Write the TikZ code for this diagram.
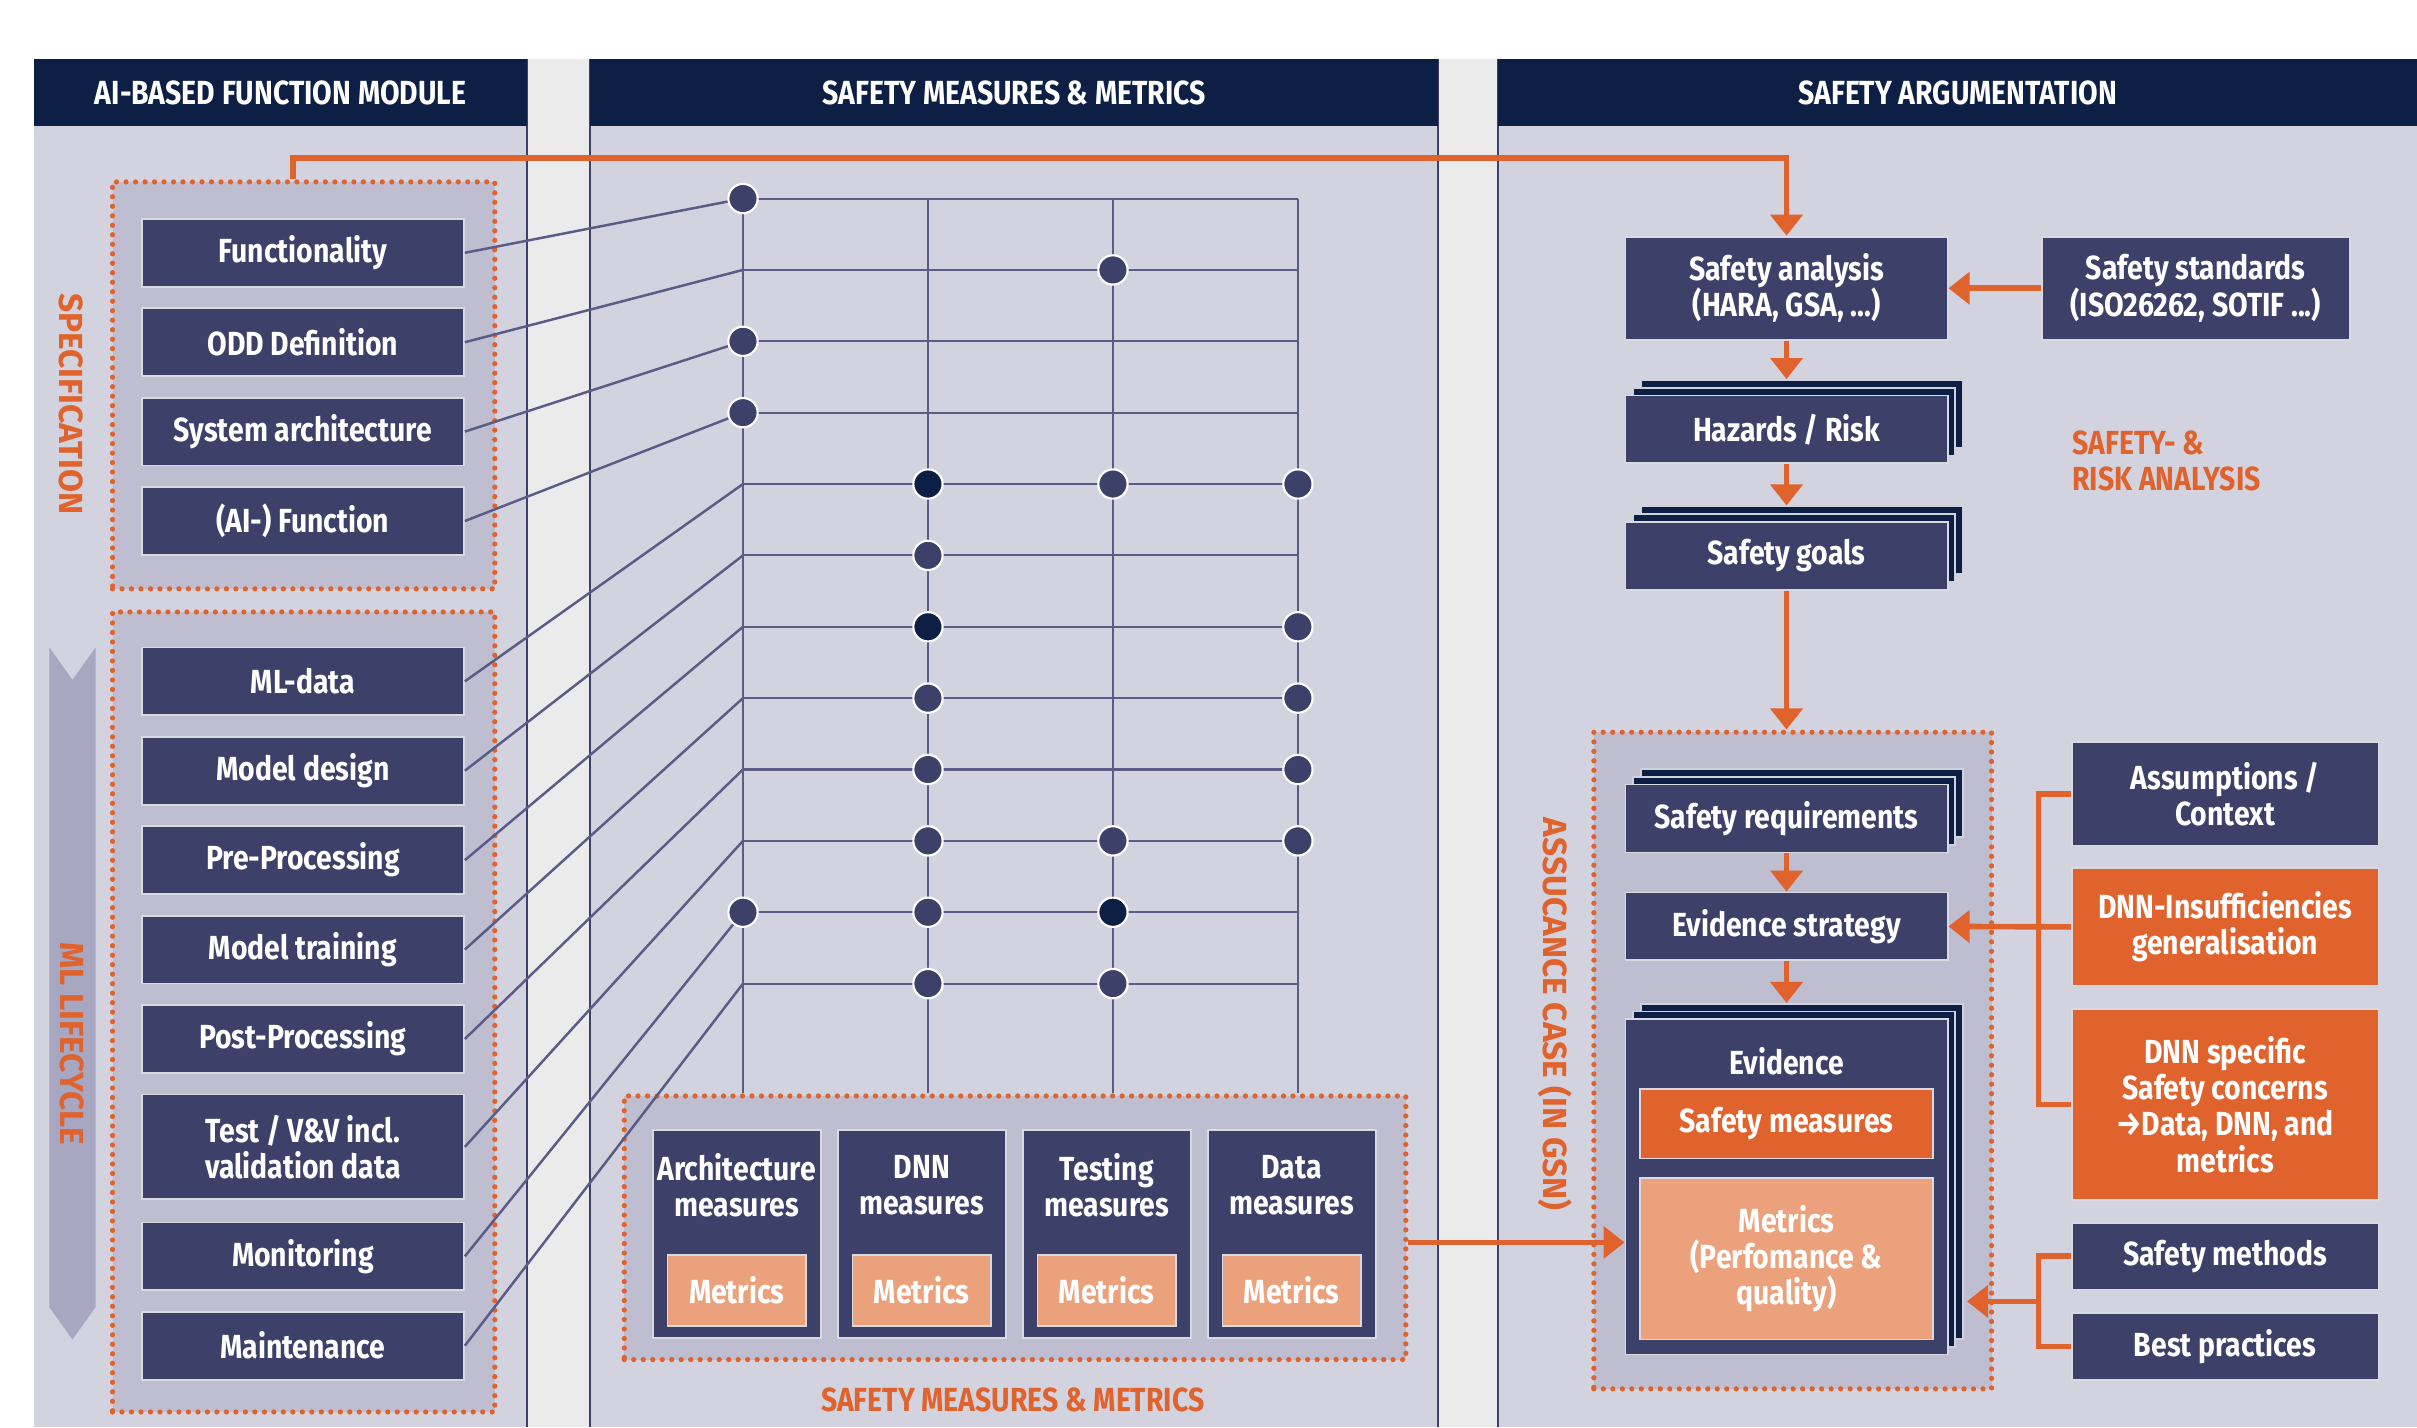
\documentclass[tikz,border=0pt]{standalone}
\usepackage{fontspec}
\setmainfont{Fira Sans}[FakeStretch=0.85]
\newfontfamily\widefont{Fira Sans}
\usetikzlibrary{arrows.meta,calc,shadows}

\definecolor{navy}{HTML}{0D1F45}
\definecolor{boxblue}{HTML}{3D4068}
\definecolor{panelgray}{HTML}{D3D3DF}
\definecolor{gapgray}{HTML}{EBEBEB}
\definecolor{groupgray}{HTML}{BEBED0}
\definecolor{accent}{HTML}{E0622D}
\definecolor{accentlight}{HTML}{EBA27C}
\definecolor{wire}{HTML}{5B5B87}
\definecolor{cyclegray}{HTML}{A7A7C1}

\newlength{\tu}
\setlength{\tu}{0.015415cm}

\tikzset{
  header/.style={fill=navy, text=white, minimum height=44*\tu, inner sep=0pt},
  box/.style={fill=boxblue, draw=white!80!boxblue, line width=0.5pt, text=white, align=center,
    inner sep=0pt, minimum width=209*\tu, minimum height=44*\tu},
  hotbox/.style={box, fill=accent},
  metricbox/.style={box, fill=accentlight},
  stackbox/.style={box,
    general shadow={shadow xshift=10*\tu, shadow yshift=10*\tu, fill=navy, draw=white!80!navy, line width=0.5pt},
    general shadow={shadow xshift=5*\tu, shadow yshift=5*\tu, fill=navy, draw=white!80!navy, line width=0.5pt}},
  group/.style={fill=groupgray, draw=accent, line width=1.5pt, line cap=round,
    dash pattern=on 0pt off 2.7pt, inner sep=0pt},
  tag/.style={text=accent, align=left, inner sep=0pt},
  sidetag/.style={tag, rotate=-90, font=\fontsize{9.5}{10.3}\widefont\bfseries},
  link/.style={draw=wire, line width=0.7pt},
  gridline/.style={draw=wire, line width=0.6pt},
  dot/.style={circle, fill=boxblue, draw=white, line width=0.6pt, minimum size=19*\tu, inner sep=0pt},
  darkdot/.style={dot, fill=navy},
  flow/.style={draw=accent, line width=1.6pt, -{Triangle[width=9pt,length=6pt]}},
  bracket/.style={draw=accent, line width=1.6pt},
}

\begin{document}
\begin{tikzpicture}[x=0.015415cm, y=-0.015415cm, font=\fontsize{9.5}{10.3}\selectfont\bfseries]
\useasboundingbox (0,0) rectangle (1568,926);

% Panels and gaps
\fill[white] (0,0) rectangle (1568,926);
\fill[gapgray] (342,38) rectangle (383,926);
\fill[gapgray] (933,38) rectangle (972,926);
\fill[panelgray] (22,82) rectangle (342,926);
\fill[panelgray] (383,82) rectangle (933,926);
\fill[panelgray] (972,82) rectangle (1568,926);
\draw[boxblue, line width=0.6pt] (342,38) -- (342,926) (383,38) -- (383,926)
  (933,38) -- (933,926) (972,38) -- (972,926);

% Column headers
\node[header, minimum width=320*\tu] (hmodule) at (182,60) {AI-BASED FUNCTION MODULE};
\node[header, minimum width=550*\tu] (hmeasures) at (658,60) {SAFETY MEASURES \& METRICS};
\node[header, minimum width=596*\tu] (hargue) at (1270,60) {SAFETY ARGUMENTATION};

% Dotted groups
\node[group, minimum width=248*\tu, minimum height=264*\tu] (spec) at (197,250) {};
\node[group, minimum width=248*\tu, minimum height=519*\tu] (mlcycle) at (197,656.5) {};
\node[group, minimum width=507*\tu, minimum height=171*\tu] (meas) at (658.5,796.5) {};
\node[group, minimum width=258*\tu, minimum height=426*\tu] (assure) at (1163,688) {};

% Side labels
\fill[cyclegray] (32,420) -- (47,441) -- (62,420) -- (62,848) -- (47,869) -- (32,848) -- cycle;
\node[sidetag] (speclabel) at (46,262) {SPECIFICATION};
\node[sidetag] (mllabel) at (47,677) {ML LIFECYCLE};
\node[sidetag] (gsnlabel) at (1009,658) {ASSUCANCE CASE (IN GSN)};
\node[tag] (measlabel) at (657,908) {SAFETY MEASURES \& METRICS};
\node[tag, anchor=west] (risklabel) at (1344,299) {SAFETY- \&\\RISK ANALYSIS};

% Function module
\node[box] (func) at (196.5,164) {Functionality};
\node[box] (odd) at (196.5,222) {ODD Definition};
\node[box] (sysarch) at (196.5,280) {System architecture};
\node[box] (aifunc) at (196.5,338) {(AI-) Function};
\node[box] (mldata) at (196.5,442) {ML-data};
\node[box] (mdesign) at (196.5,500) {Model design};
\node[box] (preproc) at (196.5,558) {Pre-Processing};
\node[box] (mtrain) at (196.5,616) {Model training};
\node[box] (postproc) at (196.5,674) {Post-Processing};
\node[box, minimum height=68*\tu] (testvv) at (196.5,744) {Test / V\&V incl.\\validation data};
\node[box] (monitor) at (196.5,815) {Monitoring};
\node[box] (maint) at (196.5,873) {Maintenance};

% Measures and metrics
\node[box, minimum width=109*\tu, minimum height=135*\tu] (archm) at (478,800.5) {};
\node[text=white, align=center] (archt) at (478,769) {Architecture\\measures};
\node[metricbox, minimum width=90*\tu, minimum height=46*\tu] (archmet) at (478,837) {Metrics};
\node[box, minimum width=109*\tu, minimum height=135*\tu] (dnnm) at (598,800.5) {};
\node[text=white, align=center] (dnnt) at (598,769) {DNN\\measures};
\node[metricbox, minimum width=90*\tu, minimum height=46*\tu] (dnnmet) at (598,837) {Metrics};
\node[box, minimum width=109*\tu, minimum height=135*\tu] (testm) at (718,800.5) {};
\node[text=white, align=center] (testt) at (718,769) {Testing\\measures};
\node[metricbox, minimum width=90*\tu, minimum height=46*\tu] (testmet) at (718,837) {Metrics};
\node[box, minimum width=109*\tu, minimum height=135*\tu] (datam) at (838,800.5) {};
\node[text=white, align=center] (datat) at (838,769) {Data\\measures};
\node[metricbox, minimum width=90*\tu, minimum height=46*\tu] (datamet) at (838,837) {Metrics};

% Mapping matrix
\foreach \j/\x in {0/482,1/602,2/722,3/842}
  \coordinate (c\j) at (\x,128.8);
\foreach \i in {0,...,11}
  \coordinate (r\i) at (482,{128.8+46.3*\i});
\foreach \n [count=\i from 0] in {func,odd,sysarch,aifunc,mldata,mdesign,preproc,mtrain,postproc,testvv,monitor,maint}
  \draw[link] (\n.east) -- (r\i);
\foreach \i in {0,...,11}
  \draw[gridline] (r\i) -- (r\i -| c3);
\foreach \j in {0,...,3}
  \draw[gridline] (c\j) -- (c\j |- meas.north);
\foreach \i/\j in {0/0,1/2,2/0,3/0,4/2,4/3,5/1,6/3,7/1,7/3,8/1,8/3,9/1,9/2,9/3,10/0,10/1,11/1,11/2}
  \node[dot] (d\i-\j) at (r\i -| c\j) {};
\foreach \i/\j in {4/1,6/1,10/2}
  \node[darkdot] (d\i-\j) at (r\i -| c\j) {};

% Safety and risk analysis
\node[box, minimum height=67*\tu] (analysis) at (1159,187) {Safety analysis\\(HARA, GSA, ...)};
\node[box, minimum width=200*\tu, minimum height=67*\tu] (standards) at (1424.5,187) {Safety standards\\(ISO26262, SOTIF ...)};
\node[stackbox] (hazards) at (1159,278.5) {Hazards / Risk};
\node[stackbox] (goals) at (1159,360.5) {Safety goals};

% Assurance case
\node[stackbox] (sreq) at (1159,531) {Safety requirements};
\node[box] (estrat) at (1159,601) {Evidence strategy};
\node[stackbox, minimum height=217.5*\tu] (evidence) at (1159,770) {};
\node[text=white] (evt) at (1159,688.7) {Evidence};
\node[hotbox, minimum width=190*\tu, minimum height=45*\tu] (smeas) at (1159,729) {Safety measures};
\node[metricbox, minimum width=190*\tu, minimum height=105*\tu] (emetrics) at (1159,816.5) {Metrics\\(Perfomance \&\\quality)};

% Inputs to the assurance case
\node[box, minimum width=199*\tu, minimum height=67*\tu] (assume) at (1443.5,515) {Assumptions /\\Context};
\node[hotbox, minimum width=199*\tu, minimum height=76*\tu] (insuff) at (1443.5,601.3) {DNN-Insufficiencies\\generalisation};
\node[hotbox, minimum width=199*\tu, minimum height=124*\tu] (concerns) at (1443.5,716.5) {DNN specific\\Safety concerns\\→Data, DNN, and\\metrics};
\node[box, minimum width=199*\tu, minimum height=43*\tu] (smethods) at (1443.5,815) {Safety methods};
\node[box, minimum width=199*\tu, minimum height=43*\tu] (bestprac) at (1443.5,873.5) {Best practices};

% Orange flow
\draw[flow] ([xshift=-7*\tu]spec.north) -- ++(0,-14) -| (analysis.north);
\draw[flow] (standards.west) -- (analysis.east);
\draw[flow] (analysis.south) -- ([yshift=10*\tu]hazards.north);
\draw[flow] (hazards.south) -- ([yshift=10*\tu]goals.north);
\draw[flow] (goals.south) -- (goals.south |- assure.north);
\draw[flow] (sreq.south) -- (estrat.north);
\draw[flow] (estrat.south) -- ([yshift=10*\tu]evidence.north);
\draw[flow] (insuff.west) -- (estrat.east);
\draw[bracket] (assume.west) -- ++(-21,0) |- (concerns.west);
\draw[bracket] (smethods.west) -- ++(-21,0) |- (bestprac.west);
\coordinate (brk) at ($(smethods.west)!0.5!(bestprac.west) + (-21,0)$);
\coordinate (evright) at ([xshift=12*\tu]evidence.east);
\draw[flow] (brk) -- (brk -| evright);
\coordinate (measout) at ([yshift=-9.5*\tu]meas.east);
\draw[flow] (measout) -- (measout -| evidence.west);
\end{tikzpicture}
\end{document}
